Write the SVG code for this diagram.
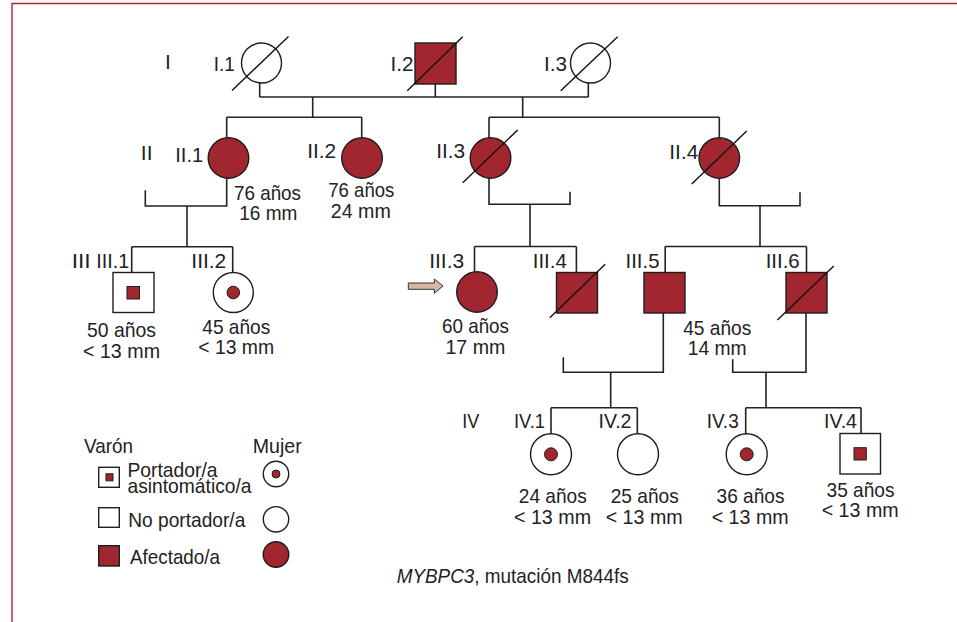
<svg xmlns="http://www.w3.org/2000/svg" width="957" height="622" viewBox="0 0 957 622">
<style>
.t{font-family:"Liberation Sans",Arial,sans-serif;font-size:21px;fill:#222;text-anchor:middle}
.s{text-anchor:start}
.w{fill:#fff;stroke:#1e1e1e;stroke-width:1.4}
.a{fill:#a2262f;stroke:#1e1e1e;stroke-width:1.4}
.d{fill:#a2262f;stroke:#1e1e1e;stroke-width:1}
.sl{stroke:#111;stroke-width:1.4;fill:none}
.c{stroke:#222;stroke-width:1.6;fill:none}
</style>
<rect width="957" height="622" fill="#fff"/>
<path d="M12,622 V3.5 H957" fill="none" stroke="#b3222f" stroke-width="1.4"/>

<g id="connectors" class="c">
<path d="M259.7,83 V97 M435.3,84 V97 M588.3,83 V97 M259.7,97 H588.3"/>
<path d="M312.7,97 V117.3 M226.7,117.3 H361.7 M226.7,117.3 V138 M361.7,117.3 V138"/>
<path d="M522.7,97 V117.3 M489,117.3 H719.3 M489,117.3 V138 M719.3,117.3 V138"/>
<path d="M226.7,178 V206 H145.3 V190.3 M187,206 V246.7 M131.7,246.7 H232.7 M131.7,246.7 V272.5 M232.7,246.7 V272.5"/>
<path d="M489,178 V204.3 H570 V191.7 M530,204.3 V246.5 M474.5,246.5 H576.4 M474.5,246.5 V272 M576.4,246.5 V272.5"/>
<path d="M719.3,178 V205.7 H800 V192.3 M760,205.7 V246.5 M665.2,246.5 H806.5 M665.2,246.5 V272.5 M806.5,246.5 V272.5"/>
<path d="M663.3,313 V372.3 H563.3 V357.3 M610.7,372.3 V407.7 M551,407.7 H637.3 M551,407.7 V434 M637.3,407.7 V434"/>
<path d="M806,313 V372.3 H732.7 V359.3 M766,372.3 V407.7 M745.7,407.7 H861 M745.7,407.7 V434 M861,407.7 V433.5"/>
</g>

<g id="gen-labels">
<text class="t" x="168" y="69">I</text>
<text class="t" x="146.7" y="160">II</text>
<text class="t" x="81.2" y="267.7" textLength="19" lengthAdjust="spacingAndGlyphs">III</text>
<text class="t" x="470.8" y="428.3" textLength="17" lengthAdjust="spacingAndGlyphs">IV</text>
</g>

<g id="I1">
<circle class="w" cx="261.5" cy="63" r="20"/>
<line class="sl" x1="232" y1="90.5" x2="288.5" y2="36.5"/>
<text class="t" x="224.2" y="71" textLength="21" lengthAdjust="spacingAndGlyphs">I.1</text>
</g>
<g id="I2">
<rect class="a" x="415" y="43" width="41" height="41"/>
<line class="sl" x1="407.3" y1="90.7" x2="462.7" y2="36.7"/>
<text class="t" x="402" y="71" textLength="23" lengthAdjust="spacingAndGlyphs">I.2</text>
</g>
<g id="I3">
<circle class="w" cx="590.5" cy="63" r="20"/>
<line class="sl" x1="560.7" y1="90.7" x2="617.7" y2="36.7"/>
<text class="t" x="555.5" y="71" textLength="23" lengthAdjust="spacingAndGlyphs">I.3</text>
</g>

<g id="II1">
<circle class="a" cx="228.5" cy="158" r="20.3"/>
<text class="t" x="189.2" y="161.7" textLength="28" lengthAdjust="spacingAndGlyphs">II.1</text>
<text class="t" x="267.5" y="200" textLength="67" lengthAdjust="spacingAndGlyphs">76 años</text>
<text class="t" x="268.3" y="220" textLength="58" lengthAdjust="spacingAndGlyphs">16 mm</text>
</g>
<g id="II2">
<circle class="a" cx="362" cy="158" r="20.3"/>
<text class="t" x="321.7" y="158" textLength="29" lengthAdjust="spacingAndGlyphs">II.2</text>
<text class="t" x="361.3" y="196.7" textLength="66" lengthAdjust="spacingAndGlyphs">76 años</text>
<text class="t" x="360.8" y="218.3" textLength="60" lengthAdjust="spacingAndGlyphs">24 mm</text>
</g>
<g id="II3">
<circle class="a" cx="490.5" cy="158" r="20.3"/>
<line class="sl" x1="462.7" y1="182.7" x2="517.7" y2="130"/>
<text class="t" x="450.7" y="158" textLength="29" lengthAdjust="spacingAndGlyphs">II.3</text>
</g>
<g id="II4">
<circle class="a" cx="719.3" cy="158" r="20.3"/>
<line class="sl" x1="691.7" y1="184" x2="746.7" y2="131"/>
<text class="t" x="683.8" y="159" textLength="29" lengthAdjust="spacingAndGlyphs">II.4</text>
</g>

<g id="III1">
<rect class="w" x="113" y="272.5" width="41" height="40"/>
<rect class="d" x="127" y="286.5" width="12.5" height="12.5"/>
<text class="t" x="112.8" y="267.7" textLength="33" lengthAdjust="spacingAndGlyphs">III.1</text>
<text class="t" x="121.5" y="337.3" textLength="69" lengthAdjust="spacingAndGlyphs">50 años</text>
<text class="t" x="121.5" y="358.3" textLength="77" lengthAdjust="spacingAndGlyphs">&lt; 13 mm</text>
</g>
<g id="III2">
<circle class="w" cx="233.3" cy="292.5" r="20"/>
<circle class="d" cx="233.3" cy="292.5" r="6.3"/>
<text class="t" x="208.8" y="267.7" textLength="35" lengthAdjust="spacingAndGlyphs">III.2</text>
<text class="t" x="236.3" y="334" textLength="68" lengthAdjust="spacingAndGlyphs">45 años</text>
<text class="t" x="236.2" y="354.3" textLength="76" lengthAdjust="spacingAndGlyphs">&lt; 13 mm</text>
</g>
<g id="III3">
<polygon points="408.3,283 434.3,283 434.3,279 443,286 434.3,293.3 434.3,289.3 408.3,289.3" fill="#d8b6a2" stroke="#333" stroke-width="1"/>
<circle class="a" cx="477" cy="292" r="20.3"/>
<text class="t" x="446.7" y="267.7" textLength="35" lengthAdjust="spacingAndGlyphs">III.3</text>
<text class="t" x="475.5" y="333.3" textLength="67" lengthAdjust="spacingAndGlyphs">60 años</text>
<text class="t" x="475.4" y="354" textLength="60" lengthAdjust="spacingAndGlyphs">17 mm</text>
</g>
<g id="III4">
<rect class="a" x="556.5" y="272.5" width="41" height="40.5"/>
<line class="sl" x1="549.8" y1="317.7" x2="605.2" y2="264.3"/>
<text class="t" x="549.8" y="267.7" textLength="34" lengthAdjust="spacingAndGlyphs">III.4</text>
</g>
<g id="III5">
<rect class="a" x="644" y="272.5" width="41" height="40.5"/>
<text class="t" x="642.5" y="267.7" textLength="34" lengthAdjust="spacingAndGlyphs">III.5</text>
<text class="t" x="717.2" y="335" textLength="68" lengthAdjust="spacingAndGlyphs">45 años</text>
<text class="t" x="717.2" y="355" textLength="59" lengthAdjust="spacingAndGlyphs">14 mm</text>
</g>
<g id="III6">
<rect class="a" x="786" y="272.5" width="41" height="40.5"/>
<line class="sl" x1="777.4" y1="320" x2="833.8" y2="266"/>
<text class="t" x="782.7" y="267.7" textLength="34" lengthAdjust="spacingAndGlyphs">III.6</text>
</g>

<g id="IV1">
<circle class="w" cx="551" cy="454.3" r="20.5"/>
<circle class="d" cx="551" cy="454.3" r="6.5"/>
<text class="t" x="529.5" y="428.3" textLength="31" lengthAdjust="spacingAndGlyphs">IV.1</text>
<text class="t" x="552.8" y="503.3" textLength="68" lengthAdjust="spacingAndGlyphs">24 años</text>
<text class="t" x="552.5" y="524" textLength="77" lengthAdjust="spacingAndGlyphs">&lt; 13 mm</text>
</g>
<g id="IV2">
<circle class="w" cx="638" cy="454.3" r="20.5"/>
<text class="t" x="615" y="428.3" textLength="33" lengthAdjust="spacingAndGlyphs">IV.2</text>
<text class="t" x="644.7" y="503.3" textLength="68" lengthAdjust="spacingAndGlyphs">25 años</text>
<text class="t" x="644.2" y="524" textLength="77" lengthAdjust="spacingAndGlyphs">&lt; 13 mm</text>
</g>
<g id="IV3">
<circle class="w" cx="746.7" cy="454.3" r="20.5"/>
<circle class="d" cx="746.7" cy="454.3" r="6.5"/>
<text class="t" x="722.7" y="428.3" textLength="32" lengthAdjust="spacingAndGlyphs">IV.3</text>
<text class="t" x="750.5" y="503.3" textLength="68" lengthAdjust="spacingAndGlyphs">36 años</text>
<text class="t" x="750.2" y="524" textLength="77" lengthAdjust="spacingAndGlyphs">&lt; 13 mm</text>
</g>
<g id="IV4">
<rect class="w" x="840" y="433.5" width="40.5" height="40.5"/>
<rect class="d" x="854" y="447.7" width="12.3" height="12.3"/>
<text class="t" x="840.5" y="428.3" textLength="33" lengthAdjust="spacingAndGlyphs">IV.4</text>
<text class="t" x="860.5" y="496.7" textLength="68" lengthAdjust="spacingAndGlyphs">35 años</text>
<text class="t" x="860.2" y="517.3" textLength="77" lengthAdjust="spacingAndGlyphs">&lt; 13 mm</text>
</g>

<g id="legend">
<text class="t s" x="84" y="452.7" textLength="49" lengthAdjust="spacingAndGlyphs">Varón</text>
<text class="t" x="277.2" y="452.7" textLength="49" lengthAdjust="spacingAndGlyphs">Mujer</text>
<rect class="w" x="98.7" y="467.3" width="20.6" height="20"/>
<rect class="d" x="106" y="473.8" width="7" height="7"/>
<text class="t s" x="127.5" y="477.3" textLength="90" lengthAdjust="spacingAndGlyphs">Portador/a</text>
<text class="t s" x="127.5" y="493.3" textLength="124" lengthAdjust="spacingAndGlyphs">asintomático/a</text>
<circle class="w" cx="276" cy="474" r="12.7"/>
<circle class="d" cx="276" cy="474" r="4"/>
<rect class="w" x="98.7" y="507.7" width="20.6" height="19.6"/>
<text class="t s" x="128.3" y="526.7" textLength="117" lengthAdjust="spacingAndGlyphs">No portador/a</text>
<circle class="w" cx="276" cy="519.3" r="12.7"/>
<rect class="a" x="98.7" y="545.7" width="20.6" height="20.3"/>
<text class="t s" x="130" y="564.3" textLength="90" lengthAdjust="spacingAndGlyphs">Afectado/a</text>
<circle class="a" cx="276" cy="554.5" r="12.8"/>
</g>

<g id="caption">
<text class="t s" x="396.7" y="583.3" textLength="232" lengthAdjust="spacingAndGlyphs"><tspan font-style="italic">MYBPC3</tspan>, mutación M844fs</text>
</g>
</svg>
